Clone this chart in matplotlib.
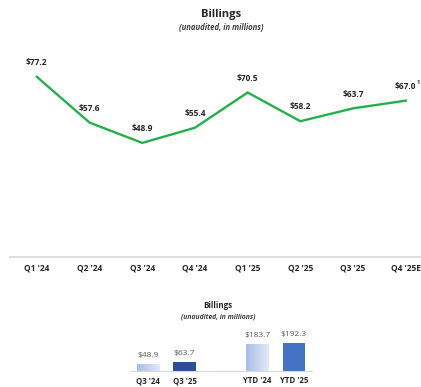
import numpy as np
import matplotlib.pyplot as plt
from matplotlib.colors import LinearSegmentedColormap

plt.rcParams['font.family'] = ['Open Sans', 'DejaVu Sans']

# quarterly billings (top chart)
quarters = ["Q1 '24", "Q2 '24", "Q3 '24", "Q4 '24", "Q1 '25", "Q2 '25", "Q3 '25", "Q4 '25E"]
billings = [77.2, 57.6, 48.9, 55.4, 70.5, 58.2, 63.7, 67.0]

# comparison bars (bottom chart)
bar_labels = ["Q3 '24", "Q3 '25", "YTD '24", "YTD '25"]
bar_values = [48.9, 63.7, 183.7, 192.3]
bar_pos = [0, 1, 3, 4]

green = '#22B04B'
txt = '#262626'

fig = plt.figure(figsize=(4.21, 3.87), dpi=100)

# ---- top line chart ----
ax = fig.add_axes([10 / 421, 1 - 257 / 387, 411 / 421, 210 / 387])
x = np.arange(len(quarters))
ax.plot(x, billings, color=green, lw=1.7, solid_joinstyle='miter')
for xi, v in zip(x, billings):
    ax.annotate(f'${v:.1f}', (xi, v), xytext=(0, 7), textcoords='offset points',
                ha='center', va='bottom', fontsize=6, fontweight='bold', color=txt)
# footnote marker on the estimate
ax.annotate('1', (x[-1], billings[-1]), xytext=(8, 15), textcoords='offset points',
            ha='left', va='top', fontsize=4.2, fontweight='bold', color=txt)
ax.set_xlim(-0.51, 7.29)
ax.set_ylim(0, 90)
ax.set_xticks(x)
ax.set_xticklabels(quarters, fontsize=6, fontweight='bold', color=txt)
ax.tick_params(axis='x', length=0, pad=5)
ax.set_yticks([])
for s in ['top', 'right', 'left']:
    ax.spines[s].set_visible(False)
ax.spines['bottom'].set_color('#D9D9D9')
ax.spines['bottom'].set_linewidth(1.2)

fig.text(221 / 421, 1 - 15 / 387, 'Billings', ha='center', va='center',
         fontsize=8, fontweight='bold', color=txt)
fig.text(221 / 421, 1 - 27 / 387, '(unaudited, in millions)', ha='center', va='center',
         fontsize=5.6, fontstyle='italic', fontweight='bold', color='#404040')

# ---- bottom bar chart ----
bx = fig.add_axes([130 / 421, 1 - 370.7 / 387, 182 / 421, 36 / 387])
bars = bx.bar(bar_pos, bar_values, width=0.62, color=['none', '#2B4F96', 'none', '#4472C4'])

# light gradient fill for the prior-year bars
grad = LinearSegmentedColormap.from_list('g', ['#A9BDEA', '#E3E9F6'])
for i in (0, 2):
    b = bars[i]
    x0, y0 = b.get_x(), b.get_y()
    im = bx.imshow(np.linspace(0, 1, 64).reshape(1, -1), cmap=grad, aspect='auto',
                   extent=[x0, x0 + b.get_width(), y0, y0 + b.get_height()], zorder=2)
    im.set_clip_path(b)
bx.set_xlim(-0.5, 4.5)
bx.set_ylim(0, 250)

for p, v in zip(bar_pos, bar_values):
    bx.annotate(f'${v:.1f}', (p, v), xytext=(0, 3.5), textcoords='offset points',
                ha='center', va='bottom', fontsize=6, color='#595959')
bx.set_xticks(bar_pos)
bx.set_xticklabels(bar_labels, fontsize=5.7, fontweight='bold', color=txt)
bx.tick_params(axis='x', length=0, pad=4)
bx.set_yticks([])
for s in ['top', 'right', 'left']:
    bx.spines[s].set_visible(False)
bx.spines['bottom'].set_color('#D9D9D9')
bx.spines['bottom'].set_linewidth(0.8)

fig.text(218 / 421, 1 - 306 / 387, 'Billings', ha='center', va='center',
         fontsize=5.8, fontweight='bold', color=txt)
fig.text(218 / 421, 1 - 317 / 387, '(unaudited, in millions)', ha='center', va='center',
         fontsize=4.9, fontstyle='italic', fontweight='bold', color='#404040')

fig.savefig('out.png', dpi=100)
